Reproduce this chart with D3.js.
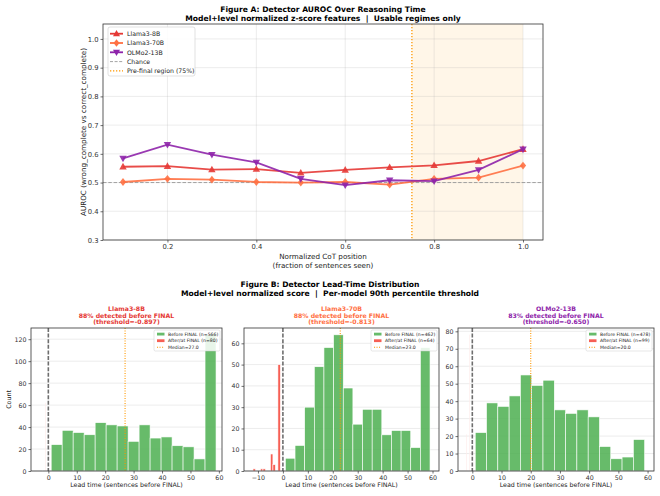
<!DOCTYPE html>
<html>
<head>
<meta charset="utf-8">
<script src="https://cdn.jsdelivr.net/npm/d3@7"></script>
<style>
  body { margin: 0; background: #fff; }
  svg { font-family: "DejaVu Sans", sans-serif; }
  text { white-space: pre; }
</style>
</head>
<body>
<div id="chart"></div>
<script>
// ---- Figure A data ----
const positions = [0.1, 0.2, 0.3, 0.4, 0.5, 0.6, 0.7, 0.8, 0.9, 1.0]
const llama8b = [0.555, 0.557, 0.545, 0.547, 0.534, 0.544, 0.553, 0.560, 0.575, 0.616]
const llama70b = [0.502, 0.513, 0.510, 0.502, 0.500, 0.502, 0.493, 0.513, 0.517, 0.559]
const olmo13b = [0.584, 0.632, 0.597, 0.570, 0.513, 0.491, 0.508, 0.505, 0.544, 0.616]
const chance = 0.5
const preFinal = 0.75

// ---- Figure B data ----
const leadModels = ['Llama3-8B', 'Llama3-70B', 'OLMo2-13B']
const detectedPct = [88, 88, 83]
const thresholds = ['-0.897', '-0.813', '-0.650']
const medians = [27.0, 23.0, 20.0]
const beforeN = [566, 462, 478]
const afterN = [80, 64, 99]
const beforeRange = [[1, 59], [1, 59], [1, 59]]
const beforeCounts = [
  [24, 37, 35, 33, 44, 42, 41, 27, 42, 30, 31, 23, 22, 11, 124],
  [6, 12, 30, 49, 58, 64, 39, 22, 29, 29, 17, 19, 19, 11, 58],
  [22, 39, 37, 43, 55, 49, 52, 35, 33, 35, 31, 14, 7, 8, 18]
]
const afterRange = [[-2, -1], [-12, -1], [-2, -1]]
const afterCounts = [
  [18, 0, 0, 0, 0, 0, 0, 0, 0, 0, 0, 0, 0, 0, 62],
  [1, 0, 0, 1, 1, 0, 0, 8, 3, 0, 50],
  [21, 0, 0, 0, 0, 0, 0, 0, 0, 0, 0, 0, 0, 0, 78]
]
const xDomains = [[-6.1, 61.1], [-15.6, 62.6], [-4.9, 62.2]]
const yDomains = [[0, 130.2], [0, 67.2], [0, 81.9]]
const yTickStep = [20, 10, 10]

const modelColors = ['#E53935', '#FF7043', '#8E24AA']

const svg = d3.select('#chart').append('svg')
  .attr('width', 660)
  .attr('height', 496)

// ================= Figure A =================
const A = { left: 103, right: 543, top: 24, bottom: 240 }
const xA = d3.scaleLinear().domain([0.055, 1.045]).range([A.left, A.right])
const yA = d3.scaleLinear().domain([0.3, 1.052]).range([A.bottom, A.top])

svg.append('text').attr('x', 323).attr('y', 12).attr('text-anchor', 'middle')
  .attr('font-size', 7.6).attr('font-weight', 'bold')
  .text('Figure A: Detector AUROC Over Reasoning Time')
svg.append('text').attr('x', 323).attr('y', 21).attr('text-anchor', 'middle')
  .attr('font-size', 7.6).attr('font-weight', 'bold')
  .text('Model+level normalized z-score features  |  Usable regimes only')

const gA = svg.append('g')

// shaded pre-final region
gA.append('rect')
  .attr('x', xA(preFinal)).attr('y', A.top)
  .attr('width', xA(1.0) - xA(preFinal)).attr('height', A.bottom - A.top)
  .attr('fill', '#FFE0B2').attr('opacity', 0.3)

// grid
const xTicksA = [0.2, 0.4, 0.6, 0.8, 1.0]
const yTicksA = [0.3, 0.4, 0.5, 0.6, 0.7, 0.8, 0.9, 1.0]
gA.selectAll('.gx').data(xTicksA).enter().append('line')
  .attr('x1', d => xA(d)).attr('x2', d => xA(d))
  .attr('y1', A.top).attr('y2', A.bottom)
  .attr('stroke', '#b0b0b0').attr('stroke-opacity', 0.3).attr('stroke-width', 0.8)
gA.selectAll('.gy').data(yTicksA).enter().append('line')
  .attr('x1', A.left).attr('x2', A.right)
  .attr('y1', d => yA(d)).attr('y2', d => yA(d))
  .attr('stroke', '#b0b0b0').attr('stroke-opacity', 0.3).attr('stroke-width', 0.8)

// chance & pre-final lines
gA.append('line')
  .attr('x1', A.left).attr('x2', A.right)
  .attr('y1', yA(chance)).attr('y2', yA(chance))
  .attr('stroke', '#999').attr('stroke-width', 0.9).attr('stroke-dasharray', '3.5,1.8')
gA.append('line')
  .attr('x1', xA(preFinal)).attr('x2', xA(preFinal))
  .attr('y1', A.top).attr('y2', A.bottom)
  .attr('stroke', '#FF9800').attr('stroke-width', 1.3).attr('stroke-dasharray', '1.3,1.7')

const series = [
  { name: 'Llama3-8B', values: llama8b, color: modelColors[0], marker: 'up' },
  { name: 'Llama3-70B', values: llama70b, color: modelColors[1], marker: 'diamond' },
  { name: 'OLMo2-13B', values: olmo13b, color: modelColors[2], marker: 'down' }
]

function markerPath(type, s) {
  if (type === 'up') return `M0,${-s}L${s * 0.95},${s * 0.7}L${-s * 0.95},${s * 0.7}Z`
  if (type === 'down') return `M0,${s}L${s * 0.95},${-s * 0.7}L${-s * 0.95},${-s * 0.7}Z`
  return `M0,${-s}L${s * 0.8},0L0,${s}L${-s * 0.8},0Z`
}

const lineA = d3.line().x(d => xA(d[0])).y(d => yA(d[1]))
series.forEach(s => {
  const pts = positions.map((p, i) => [p, s.values[i]])
  gA.append('path').datum(pts)
    .attr('d', lineA).attr('fill', 'none')
    .attr('stroke', s.color).attr('stroke-width', 1.8).attr('stroke-opacity', 0.9)
  gA.selectAll(null).data(pts).enter().append('path')
    .attr('transform', d => `translate(${xA(d[0])},${yA(d[1])})`)
    .attr('d', markerPath(s.marker, 3.9))
    .attr('fill', s.color).attr('fill-opacity', 0.9)
})

// frame
gA.append('rect').attr('x', A.left).attr('y', A.top)
  .attr('width', A.right - A.left).attr('height', A.bottom - A.top)
  .attr('fill', 'none').attr('stroke', '#333').attr('stroke-width', 0.8)

// axes
const axA_x = gA.append('g').attr('transform', `translate(0,${A.bottom})`)
  .call(d3.axisBottom(xA).tickValues(xTicksA).tickFormat(d3.format('.1f')).tickSize(2.5).tickPadding(2))
const axA_y = gA.append('g').attr('transform', `translate(${A.left},0)`)
  .call(d3.axisLeft(yA).tickValues(yTicksA).tickFormat(d3.format('.1f')).tickSize(2.5).tickPadding(2))
;[axA_x, axA_y].forEach(ax => {
  ax.select('.domain').remove()
  ax.selectAll('text').attr('font-size', 6.8).attr('fill', '#333').attr('font-family', 'DejaVu Sans')
  ax.selectAll('line').attr('stroke', '#333').attr('stroke-width', 0.7)
})

svg.append('text').attr('x', 323).attr('y', 259).attr('text-anchor', 'middle')
  .attr('font-size', 7.2).attr('fill', '#222').text('Normalized CoT position')
svg.append('text').attr('x', 323).attr('y', 268).attr('text-anchor', 'middle')
  .attr('font-size', 7.2).attr('fill', '#222').text('(fraction of sentences seen)')
svg.append('text').attr('transform', `translate(86,${(A.top + A.bottom) / 2}) rotate(-90)`)
  .attr('text-anchor', 'middle').attr('font-size', 7.2).attr('fill', '#222')
  .text('AUROC (wrong_complete vs correct_complete)')

// legend A
const legA = gA.append('g')
legA.append('rect').attr('x', 108).attr('y', 27).attr('width', 87).attr('height', 49)
  .attr('rx', 2).attr('fill', '#fff').attr('fill-opacity', 0.85)
  .attr('stroke', '#ccc').attr('stroke-width', 0.6)
const legItems = series.map(s => ({ name: s.name, color: s.color, marker: s.marker, kind: 'line' }))
  .concat([
    { name: 'Chance', color: '#999', kind: 'dash' },
    { name: 'Pre-final region (75%)', color: '#FF9800', kind: 'dot' }
  ])
legItems.forEach((it, i) => {
  const y = 33.7 + i * 9.3
  const ln = legA.append('line').attr('x1', 110).attr('x2', 123).attr('y1', y).attr('y2', y)
    .attr('stroke', it.color)
  if (it.kind === 'line') {
    ln.attr('stroke-width', 1.8)
    legA.append('path').attr('transform', `translate(116.5,${y})`)
      .attr('d', markerPath(it.marker, 3.7)).attr('fill', it.color)
  } else if (it.kind === 'dash') {
    ln.attr('stroke-width', 0.9).attr('stroke-dasharray', '3,1.6')
  } else {
    ln.attr('stroke-width', 1.3).attr('stroke-dasharray', '1.3,1.7')
  }
  legA.append('text').attr('x', 127).attr('y', y + 2.3).attr('font-size', 6.2).attr('fill', '#222')
    .text(it.name)
})

// ================= Figure B =================
svg.append('text').attr('x', 330).attr('y', 287).attr('text-anchor', 'middle')
  .attr('font-size', 7.6).attr('font-weight', 'bold')
  .text('Figure B: Detector Lead-Time Distribution')
svg.append('text').attr('x', 330).attr('y', 295.5).attr('text-anchor', 'middle')
  .attr('font-size', 7.6).attr('font-weight', 'bold')
  .text('Model+level normalized score  |  Per-model 90th percentile threshold')

const panels = [
  { left: 31, right: 222, top: 328, bottom: 471 },
  { left: 244, right: 439, top: 328, bottom: 471 },
  { left: 458, right: 654, top: 328, bottom: 471 }
]

function binsOf(range, counts) {
  const w = (range[1] - range[0]) / counts.length
  return counts.map((c, i) => ({ x0: range[0] + i * w, x1: range[0] + (i + 1) * w, c }))
}

panels.forEach((P, k) => {
  const g = svg.append('g')
  const x = d3.scaleLinear().domain(xDomains[k]).range([P.left, P.right])
  const y = d3.scaleLinear().domain(yDomains[k]).range([P.bottom, P.top])
  const yTicks = d3.range(0, yDomains[k][1], yTickStep[k])
  const xTicks = d3.range(Math.ceil(xDomains[k][0] / 10) * 10, xDomains[k][1], 10)

  g.selectAll(null).data(yTicks).enter().append('line')
    .attr('x1', P.left).attr('x2', P.right)
    .attr('y1', d => y(d)).attr('y2', d => y(d))
    .attr('stroke', '#b0b0b0').attr('stroke-opacity', 0.3).attr('stroke-width', 0.8)

  const green = binsOf(beforeRange[k], beforeCounts[k])
  const red = binsOf(afterRange[k], afterCounts[k]).filter(b => b.c > 0)
  g.selectAll(null).data(green).enter().append('rect')
    .attr('x', d => x(d.x0)).attr('width', d => x(d.x1) - x(d.x0))
    .attr('y', d => y(d.c)).attr('height', d => y(0) - y(d.c))
    .attr('fill', '#4CAF50').attr('fill-opacity', 0.85)
    .attr('stroke', '#fff').attr('stroke-width', 0.6)
  g.selectAll(null).data(red).enter().append('rect')
    .attr('x', d => x(d.x0)).attr('width', d => x(d.x1) - x(d.x0))
    .attr('y', d => y(d.c)).attr('height', d => y(0) - y(d.c))
    .attr('fill', '#F44336').attr('fill-opacity', 0.85)
    .attr('stroke', '#fff').attr('stroke-width', 0.6)

  // zero & median lines
  g.append('line').attr('x1', x(0)).attr('x2', x(0)).attr('y1', P.top).attr('y2', P.bottom)
    .attr('stroke', '#555').attr('stroke-opacity', 0.85).attr('stroke-width', 1.6).attr('stroke-dasharray', '4,1.6')
  g.append('line').attr('x1', x(medians[k])).attr('x2', x(medians[k])).attr('y1', P.top).attr('y2', P.bottom)
    .attr('stroke', '#FF9800').attr('stroke-width', 1.1).attr('stroke-dasharray', '1.1,1.4')

  g.append('rect').attr('x', P.left).attr('y', P.top)
    .attr('width', P.right - P.left).attr('height', P.bottom - P.top)
    .attr('fill', 'none').attr('stroke', '#333').attr('stroke-width', 0.8)

  const ax = g.append('g').attr('transform', `translate(0,${P.bottom})`)
    .call(d3.axisBottom(x).tickValues(xTicks).tickFormat(d3.format('d')).tickSize(2.5).tickPadding(2))
  const ay = g.append('g').attr('transform', `translate(${P.left},0)`)
    .call(d3.axisLeft(y).tickValues(yTicks).tickFormat(d3.format('d')).tickSize(2.5).tickPadding(2))
  ;[ax, ay].forEach(a => {
    a.select('.domain').remove()
    a.selectAll('text').attr('font-size', 6.3).attr('fill', '#333').attr('font-family', 'DejaVu Sans')
    a.selectAll('line').attr('stroke', '#333').attr('stroke-width', 0.7)
  })

  const cx = (P.left + P.right) / 2
  g.append('text').attr('x', cx).attr('y', 487).attr('text-anchor', 'middle')
    .attr('font-size', 6.3).attr('fill', '#222').text('Lead time (sentences before FINAL)')
  if (k === 0) {
    g.append('text').attr('transform', `translate(11,${(P.top + P.bottom) / 2}) rotate(-90)`)
      .attr('text-anchor', 'middle').attr('font-size', 6.3).attr('fill', '#222').text('Count')
  }

  const titleLines = [leadModels[k], `${detectedPct[k]}% detected before FINAL`, `(threshold=${thresholds[k]})`]
  titleLines.forEach((t, i) => {
    g.append('text').attr('x', cx).attr('y', 311 + i * 6.6).attr('text-anchor', 'middle')
      .attr('font-size', 6.2).attr('font-weight', 'bold').attr('fill', modelColors[k]).text(t)
  })

  // legend
  const lw = 66, lx = P.right - lw - 2, ly = 330
  const lg = g.append('g')
  lg.append('rect').attr('x', lx).attr('y', ly).attr('width', lw).attr('height', 21)
    .attr('rx', 1.5).attr('fill', '#fff').attr('fill-opacity', 0.85)
    .attr('stroke', '#ccc').attr('stroke-width', 0.5)
  const items = [
    { t: `Before FINAL (n=${beforeN[k]})`, c: '#4CAF50', kind: 'patch' },
    { t: `After/at FINAL (n=${afterN[k]})`, c: '#F44336', kind: 'patch' },
    { t: `Median=${medians[k].toFixed(1)}`, c: '#FF9800', kind: 'dot' }
  ]
  items.forEach((it, i) => {
    const yy = ly + 4 + i * 6.6
    if (it.kind === 'patch') {
      lg.append('rect').attr('x', lx + 3).attr('y', yy - 1.3).attr('width', 7.5).attr('height', 2.8)
        .attr('fill', it.c).attr('fill-opacity', 0.85)
    } else {
      lg.append('line').attr('x1', lx + 3).attr('x2', lx + 10.5).attr('y1', yy).attr('y2', yy)
        .attr('stroke', it.c).attr('stroke-width', 1.1).attr('stroke-dasharray', '1.1,1.4')
    }
    lg.append('text').attr('x', lx + 14).attr('y', yy + 1.6).attr('font-size', 4.6).attr('fill', '#222').text(it.t)
  })
})
</script>
</body>
</html>
